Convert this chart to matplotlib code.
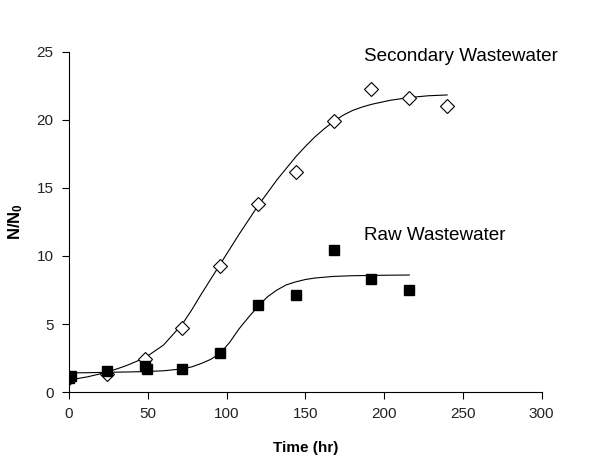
import numpy as np
import matplotlib
matplotlib.use("Agg")
import matplotlib.pyplot as plt

plt.rcParams["font.family"] = ["Liberation Sans", "DejaVu Sans"]
plt.rcParams["mathtext.fontset"] = "custom"
plt.rcParams["mathtext.bf"] = "Liberation Sans:bold"
plt.rcParams["mathtext.rm"] = "Liberation Sans"

# measured points
sec_time = [0, 24, 48, 72, 96, 120, 144, 168, 192, 216, 240]
sec_ratio = [1.0, 1.35, 2.45, 4.7, 9.3, 13.85, 16.15, 19.95, 22.25, 21.65, 21.05]

raw_time = [0, 1, 24, 48, 49.5, 72, 96, 120, 144, 168, 192, 216]
raw_ratio = [1.0, 1.15, 1.55, 1.9, 1.72, 1.7, 2.84, 6.4, 7.13, 10.45, 8.3, 7.5]

# fitted curves
sec_fit_time = [0, 12, 24, 36, 48, 60, 72, 78, 84, 90, 96, 108, 120, 132,
                144, 150, 156, 162, 168, 174, 180, 186, 192, 204, 216, 228, 240]
sec_fit = [0.88, 1.12, 1.45, 1.92, 2.5, 3.45, 5.0, 6.05, 7.2, 8.3, 9.4, 11.6,
           13.7, 15.6, 17.3, 18.05, 18.75, 19.35, 19.9, 20.35, 20.7, 20.95,
           21.15, 21.45, 21.65, 21.78, 21.84]

raw_fit_time = [0, 12, 24, 36, 48, 60, 72, 78, 84, 90, 96, 102, 108, 114,
                120, 126, 132, 138, 144, 150, 156, 168, 180, 192, 204, 216]
raw_fit = [1.40, 1.42, 1.45, 1.47, 1.50, 1.56, 1.70, 1.85, 2.1, 2.4, 2.85,
           3.65, 4.65, 5.5, 6.3, 7.0, 7.5, 7.88, 8.1, 8.27, 8.38, 8.5, 8.55,
           8.57, 8.59, 8.6]

x_ticks = [0, 50, 100, 150, 200, 250, 300]
y_ticks = [0, 5, 10, 15, 20, 25]

fig = plt.figure(figsize=(6.1, 4.62), dpi=100)
ax = fig.add_axes([0.113, 0.1515, 0.775, 0.736])

ax.plot(sec_fit_time, sec_fit, color="black", lw=0.8)
ax.plot(raw_fit_time, raw_fit, color="black", lw=0.8)
ax.plot(sec_time, sec_ratio, linestyle="none", marker="D", markersize=7,
        markerfacecolor="white", markeredgecolor="black", markeredgewidth=0.8)
ax.plot(raw_time, raw_ratio, linestyle="none", marker="s", markersize=6.5,
        markerfacecolor="black", markeredgecolor="black")

ax.text(187.5, 24.7, "Secondary Wastewater", fontsize=13.6, va="center", ha="left")
ax.text(187, 11.5, "Raw Wastewater", fontsize=13.6, va="center", ha="left")

ax.set_xlim(0, 300)
ax.set_ylim(0, 25)
ax.set_xticks(x_ticks)
ax.set_yticks(y_ticks)
ax.spines["top"].set_visible(False)
ax.spines["right"].set_visible(False)
ax.spines["left"].set_linewidth(0.8)
ax.spines["bottom"].set_linewidth(0.8)
ax.tick_params(direction="out", length=5, width=0.8, labelsize=11, pad=6,
               colors="black", labelcolor="#222222")

ax.set_xlabel("Time (hr)", fontsize=11, fontweight="bold", labelpad=14)
ax.set_ylabel(r"$\mathbf{N/N_0}$", fontsize=12)
ax.yaxis.set_label_coords(-0.093, 0.5)

fig.savefig("out.png", dpi=100)
